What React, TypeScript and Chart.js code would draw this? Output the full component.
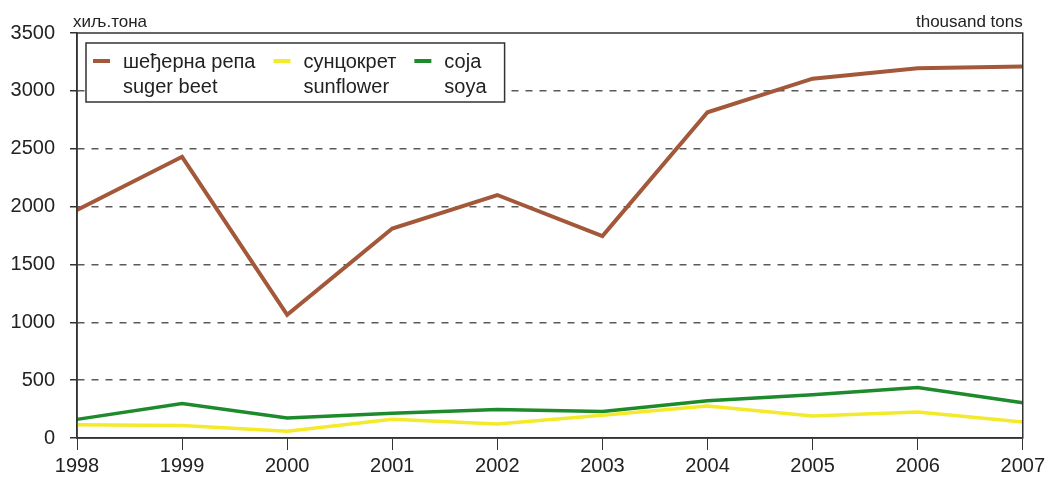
import React, { useEffect, useRef } from "react";
import { Chart, registerables } from "chart.js";

Chart.register(...registerables);

const years = ["1998", "1999", "2000", "2001", "2002", "2003", "2004", "2005", "2006", "2007"];
const sugarBeet = [1970, 2430, 1065, 1810, 2100, 1745, 2815, 3105, 3195, 3210];
const sunflower = [115, 109, 58, 161, 121, 196, 276, 190, 224, 138];
const soya = [161, 299, 172, 213, 247, 230, 322, 374, 437, 305];
const namesSr = ["шеђерна репа", "сунцокрет", "соја"];
const namesEn = ["suger beet", "sunflower", "soya"];
const colors = ["#a4583a", "#f2ea2a", "#1d8a2b"];
const yTitleLeft = "хиљ.тона";
const yTitleRight = "thousand tons";

const FONT = "'Liberation Sans', Arial, sans-serif";

const decorPlugin = {
  id: "decor",
  afterDatasetsDraw(chart: any) {
    const { ctx, chartArea } = chart;
    ctx.save();
    // plot frame
    ctx.strokeStyle = "#333";
    ctx.lineWidth = 1.5;
    ctx.setLineDash([]);
    ctx.strokeRect(chartArea.left, chartArea.top, chartArea.right - chartArea.left, chartArea.bottom - chartArea.top);
    // unit titles
    ctx.fillStyle = "#222";
    ctx.font = `17px ${FONT}`;
    ctx.textBaseline = "alphabetic";
    ctx.textAlign = "left";
    ctx.fillText(yTitleLeft, chartArea.left - 4, 27);
    ctx.textAlign = "right";
    ctx.fillText(yTitleRight, chartArea.right, 27);
    // legend
    const ds = chart.data.datasets;
    ctx.font = `20px ${FONT}`;
    ctx.textAlign = "left";
    const boxLeft = chartArea.left + 9;
    const boxTop = chartArea.top + 10;
    const boxH = 59;
    const sampleW = 17;
    const textGap = 13;
    const itemGap = 18;
    let x = boxLeft + 7;
    const positions: number[] = [];
    const widths: number[] = [];
    for (let i = 0; i < ds.length; i++) {
      const lab = ds[i].label as string[];
      const w = Math.max(...lab.map((t: string) => ctx.measureText(t).width));
      positions.push(x);
      widths.push(w);
      x = x + sampleW + textGap + w + itemGap;
    }
    const boxRight = x - itemGap + 18;
    ctx.fillStyle = "#fff";
    ctx.fillRect(boxLeft, boxTop, boxRight - boxLeft, boxH);
    ctx.strokeStyle = "#333";
    ctx.lineWidth = 1.5;
    ctx.strokeRect(boxLeft, boxTop, boxRight - boxLeft, boxH);
    for (let i = 0; i < ds.length; i++) {
      const px = positions[i];
      ctx.strokeStyle = ds[i].borderColor;
      ctx.lineWidth = 4;
      ctx.beginPath();
      ctx.moveTo(px, boxTop + 18);
      ctx.lineTo(px + sampleW, boxTop + 18);
      ctx.stroke();
      ctx.fillStyle = "#222";
      const lab = ds[i].label as string[];
      ctx.fillText(lab[0], px + sampleW + textGap, boxTop + 25);
      ctx.fillText(lab[1], px + sampleW + textGap, boxTop + 50);
    }
    ctx.restore();
  },
};

export default function App() {
  const ref = useRef<HTMLCanvasElement | null>(null);
  useEffect(() => {
    if (!ref.current) return;
    const series = [sugarBeet, sunflower, soya];
    const widthsL = [4, 3.5, 3.5];
    const chart = new Chart(ref.current, {
      type: "line",
      data: {
        labels: years,
        datasets: series.map((d, i) => ({
          label: [namesSr[i], namesEn[i]] as any,
          data: d,
          borderColor: colors[i],
          backgroundColor: colors[i],
          borderWidth: widthsL[i],
          pointRadius: 0,
          tension: 0,
          fill: false,
        })),
      },
      options: {
        responsive: false,
        animation: false,
        devicePixelRatio: 1,
        layout: { padding: { top: 33, right: 24, left: 0, bottom: 0 } },
        plugins: { legend: { display: false }, tooltip: { enabled: false }, title: { display: false } },
        scales: {
          x: {
            type: "category",
            offset: false,
            grid: { drawOnChartArea: false, drawTicks: true, tickLength: 12, color: "#333", tickColor: "#333", lineWidth: 1 },
            border: { display: true, color: "#333", width: 1.5 },
            ticks: { font: { size: 20, family: FONT }, color: "#222", padding: 4, maxRotation: 0, autoSkip: false },
            afterFit: (s: any) => { s.height = 43; },
          },
          y: {
            min: 0,
            max: 3500,
            grid: {
              color: (c: any) => (c.tick && (c.tick.value === 0 || c.tick.value === 3500) ? "rgba(0,0,0,0)" : "#5a5a5a"),
              tickColor: "#333",
              tickLength: 7,
              lineWidth: 1.5,
              tickBorderDash: [],
            } as any,
            border: { display: true, color: "#333", width: 1.5, dash: [7, 7] },
            ticks: {
              stepSize: 500,
              font: { size: 20, family: FONT },
              color: "#222",
              padding: 15,
              callback: (v: any) => String(v),
            },
            afterFit: (s: any) => { s.width = 77; },
          },
        },
      },
      plugins: [decorPlugin],
    });
    return () => chart.destroy();
  }, []);
  return (
    <div style={{ position: "fixed", left: 0, top: 0, width: 1049, height: 481, background: "#fff" }}>
      <canvas ref={ref} width={1049} height={481} />
    </div>
  );
}
